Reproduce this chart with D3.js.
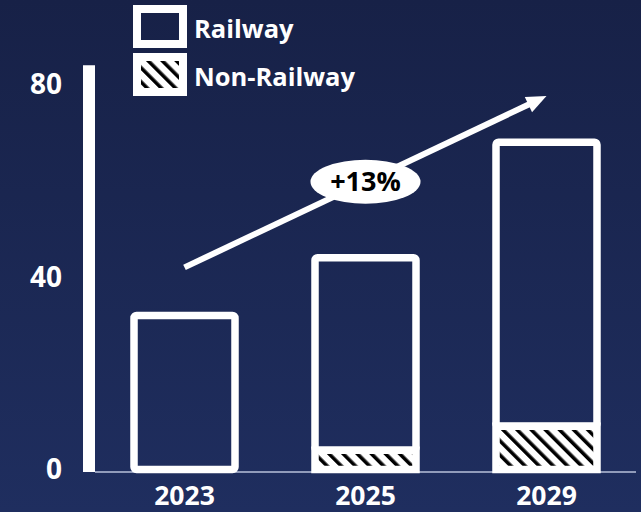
<!DOCTYPE html>
<html>
<head>
<meta charset="utf-8">
<script src="https://cdn.jsdelivr.net/npm/d3@7"></script>
<style>
  html, body { margin: 0; padding: 0; background: #1b2750; }
  svg { display: block; }
  text { font-family: "Open Sans", "DejaVu Sans", sans-serif; font-weight: 700; }
</style>
</head>
<body>
<svg id="chart" width="641" height="512"></svg>
<script>
// Market size by year, split into railway and non-railway segments
const years = ["2023", "2025", "2029"];
const railway = [32, 40, 59];
const nonRailway = [0, 4, 9];
const yTicks = [0, 40, 80];
const seriesNames = ["Railway", "Non-Railway"];
const growthLabel = "+13%";

const W = 641, H = 512;
const svg = d3.select("#chart");

// Background gradient
const defs = svg.append("defs");
const grad = defs.append("linearGradient")
  .attr("id", "bg").attr("x1", 0).attr("y1", 0).attr("x2", 0).attr("y2", 1);
grad.append("stop").attr("offset", "0%").attr("stop-color", "#172147");
grad.append("stop").attr("offset", "100%").attr("stop-color", "#1f2e5f");
svg.append("rect").attr("width", W).attr("height", H).attr("fill", "url(#bg)");

// Diagonal hatch for the non-railway segment
const hatch = defs.append("pattern")
  .attr("id", "hatch")
  .attr("patternUnits", "userSpaceOnUse")
  .attr("width", 10).attr("height", 10)
  .attr("patternTransform", "rotate(-45)");
hatch.append("rect").attr("width", 10).attr("height", 10).attr("fill", "#ffffff");
hatch.append("rect").attr("width", 3.6).attr("height", 10).attr("fill", "#000000");

// Scales
const x = d3.scaleBand()
  .domain(years)
  .range([95, 636])
  .paddingInner(0.442)
  .paddingOuter(0.2155);

const y = d3.scaleLinear()
  .domain([0, 84])
  .range([469.5, 65.25]);

const strokeW = 7.5;

// Baseline (x axis)
svg.append("line")
  .attr("x1", x.range()[0]).attr("x2", x.range()[1])
  .attr("y1", y(0) + 2.5).attr("y2", y(0) + 2.5)
  .attr("stroke", "#b9c1da").attr("stroke-width", 1.5);

// Y axis as a thick white bar
svg.append("rect")
  .attr("x", 83).attr("width", 12)
  .attr("y", y.range()[1])
  .attr("height", y(0) + 2.5 - y.range()[1])
  .attr("fill", "#ffffff");

// Y tick labels
svg.append("g").selectAll("text")
  .data(yTicks)
  .join("text")
  .attr("x", 62)
  .attr("y", d => y(d) + 9.5)
  .attr("text-anchor", "end")
  .attr("font-size", 28)
  .attr("fill", "#ffffff")
  .text(d => d);

// X tick labels
svg.append("g").selectAll("text")
  .data(years)
  .join("text")
  .attr("x", d => x(d) + x.bandwidth() / 2)
  .attr("y", 504.5)
  .attr("text-anchor", "middle")
  .attr("font-size", 26.5)
  .attr("fill", "#ffffff")
  .text(d => d);

// Stacked bars
const bars = years.map((yr, i) => ({
  year: yr,
  nr: nonRailway[i],
  total: nonRailway[i] + railway[i]
}));

const g = svg.append("g");
bars.forEach(b => {
  if (b.nr > 0) {
    g.append("rect")
      .attr("x", x(b.year))
      .attr("width", x.bandwidth())
      .attr("y", y(b.nr))
      .attr("height", y(0) - y(b.nr))
      .attr("fill", "url(#hatch)")
      .attr("stroke", "#ffffff")
      .attr("stroke-width", strokeW);
  }
  g.append("rect")
    .attr("x", x(b.year))
    .attr("width", x.bandwidth())
    .attr("y", y(b.total))
    .attr("height", y(b.nr) - y(b.total))
    .attr("fill", "none")
    .attr("stroke", "#ffffff")
    .attr("stroke-width", strokeW)
    .attr("rx", 2.5);
});

// Growth arrow from the first to the last year
const ax0 = x(years[0]) + x.bandwidth() / 2, ay0 = y(42);
const ax1 = x(years[2]) + x.bandwidth() / 2, ay1 = y(77.6);
const ang = Math.atan2(ay1 - ay0, ax1 - ax0);
const headLen = 20, headHalf = 8.5;
const bx = ax1 - headLen * Math.cos(ang), by = ay1 - headLen * Math.sin(ang);
svg.append("line")
  .attr("x1", ax0).attr("y1", ay0)
  .attr("x2", bx + 2 * Math.cos(ang)).attr("y2", by + 2 * Math.sin(ang))
  .attr("stroke", "#ffffff").attr("stroke-width", 6);
svg.append("path")
  .attr("d", d3.line()([
    [ax1, ay1],
    [bx + headHalf * Math.sin(ang), by - headHalf * Math.cos(ang)],
    [bx - headHalf * Math.sin(ang), by + headHalf * Math.cos(ang)]
  ]) + "Z")
  .attr("fill", "#ffffff");

// Growth bubble at the arrow's midpoint
const mx = x(years[1]) + x.bandwidth() / 2;
const my = ay0 + (ay1 - ay0) * (mx - ax0) / (ax1 - ax0);
svg.append("ellipse")
  .attr("cx", mx).attr("cy", my)
  .attr("rx", 55).attr("ry", 22)
  .attr("fill", "#ffffff");
svg.append("text")
  .attr("x", mx).attr("y", my + 9.5)
  .attr("text-anchor", "middle")
  .attr("font-size", 27)
  .attr("fill", "#000000")
  .text(growthLabel);

// Legend
const legend = svg.append("g");
seriesNames.forEach((name, i) => {
  const ly = 9 + i * 48;
  legend.append("rect")
    .attr("x", 137).attr("y", ly)
    .attr("width", 46).attr("height", 35)
    .attr("fill", i === 0 ? "none" : "url(#hatch)")
    .attr("stroke", "#ffffff")
    .attr("stroke-width", 8);
  legend.append("text")
    .attr("x", 194).attr("y", ly + 29)
    .attr("font-size", 25.5)
    .attr("fill", "#ffffff")
    .text(name);
});
</script>
</body>
</html>
